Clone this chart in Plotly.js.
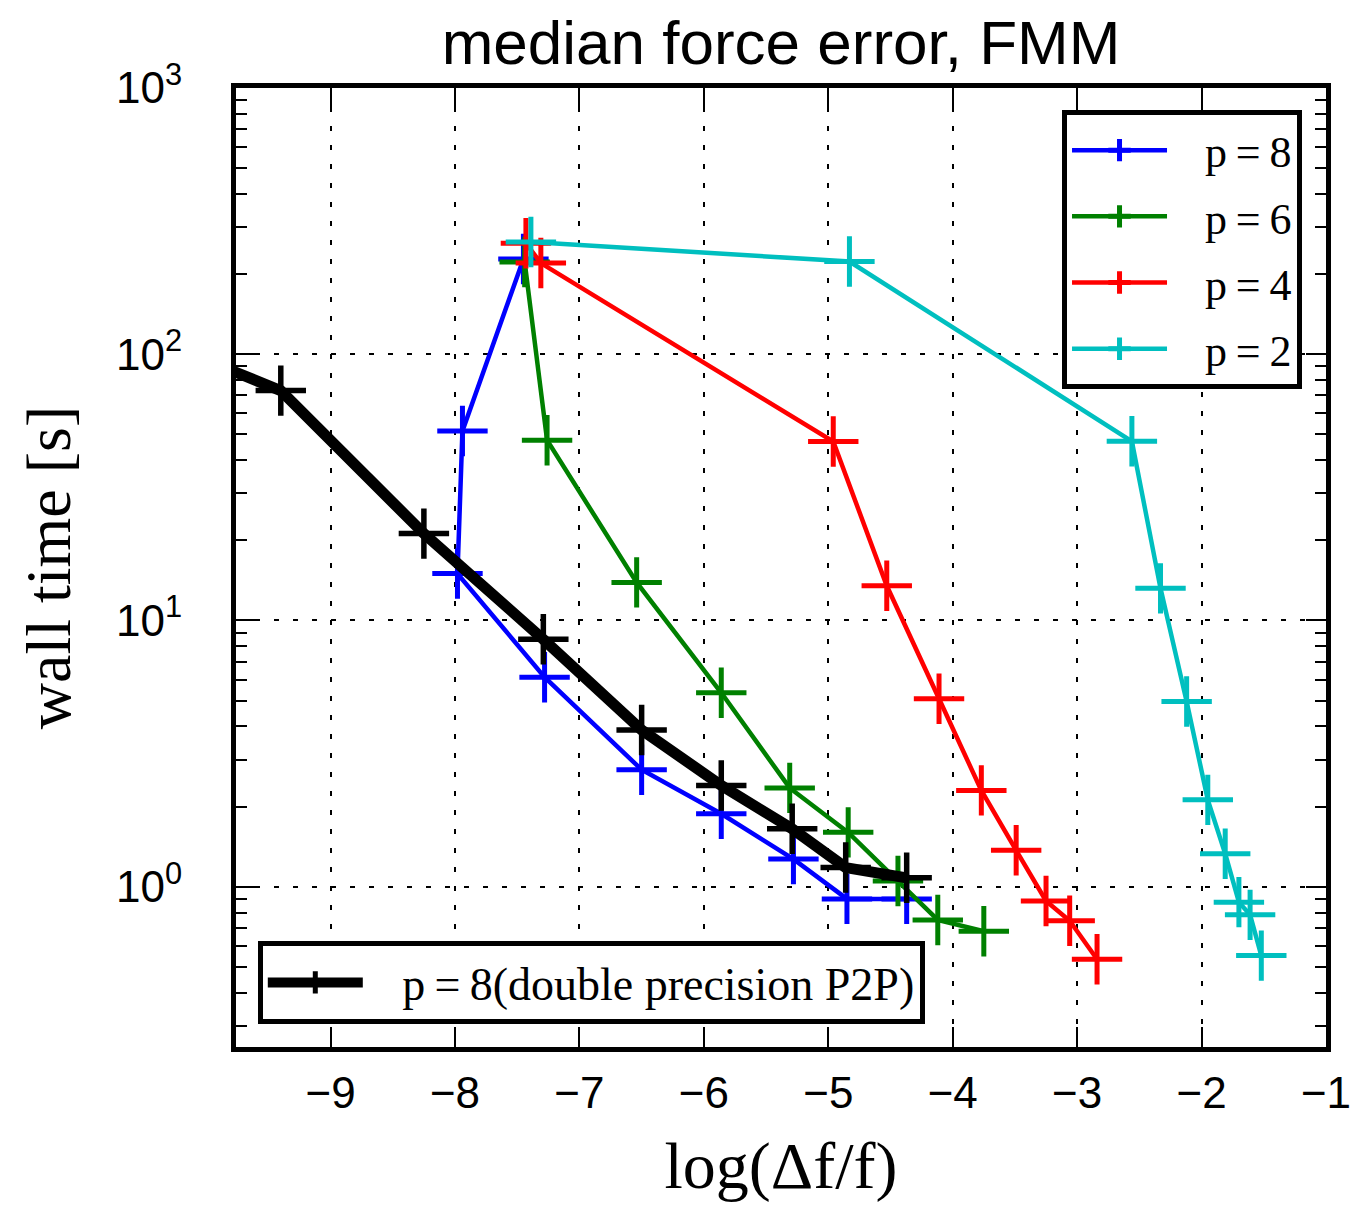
<!DOCTYPE html>
<html>
<head>
<meta charset="utf-8">
<script src="https://cdn.plot.ly/plotly-3.0.1.min.js"></script>
<style>
  html, body { margin: 0; padding: 0; background: #fff; }
  #chart { width: 1364px; height: 1207px; }
</style>
</head>
<body>
<div id="chart"></div>
<script>
// ---- data ----
const p8x  = [-7.45, -7.94, -7.98, -7.28, -6.50, -5.86, -5.28, -4.85, -4.37];
const p8y  = [228, 51.5, 15.0, 6.12, 2.75, 1.88, 1.27, 0.90, 0.90];

const p6x  = [-7.44, -7.26, -6.54, -5.86, -5.31, -4.84, -4.44, -4.12, -3.75];
const p6y  = [222, 47.5, 13.9, 5.35, 2.35, 1.60, 1.05, 0.75, 0.68];

const p4x  = [-7.43, -7.31, -4.96, -4.53, -4.11, -3.77, -3.49, -3.25, -3.06, -2.84];
const p4y  = [261, 220, 47.0, 13.5, 5.08, 2.30, 1.37, 0.884, 0.745, 0.534];

const p2x  = [-7.39, -4.83, -2.56, -2.33, -2.12, -1.95, -1.81, -1.70, -1.61, -1.52];
const p2y  = [264, 223, 47.1, 13.2, 4.96, 2.12, 1.33, 0.875, 0.784, 0.551];

const p8dx = [-10.0, -9.40, -8.25, -7.29, -6.50, -5.86, -5.29, -4.86, -4.37];
const p8dy = [95, 73, 21.2, 8.5, 3.88, 2.40, 1.65, 1.18, 1.08];

const seriesNames = ["p\u2009=\u20098", "p\u2009=\u20096", "p\u2009=\u20094", "p\u2009=\u20092", "p\u2009=\u20098(double precision P2P)"];
const xTickVals = [-9, -8, -7, -6, -5, -4, -3, -2, -1];
const yTickVals = [1, 10, 100, 1000];
const yTickText = ["10<sup>0</sup>", "10<sup>1</sup>", "10<sup>2</sup>", "10<sup>3</sup>"];

// minor tick positions on the log axis (2..9 per decade)
const yMinor = [];
[0.1, 1, 10, 100].forEach(d => { for (let k = 2; k <= 9; k++) yMinor.push(k * d); });

const GAP = '\u00a0\u00a0\u00a0';

function series(x, y, name, color, lw, mlw, legend, group) {
  return {
    x: x, y: y, name: GAP + name, type: 'scatter', mode: 'lines+markers',
    line: { color: color, width: lw },
    marker: { symbol: 'cross-thin', size: 36, color: color, line: { color: color, width: mlw } },
    legend: legend, legendgroup: group
  };
}

const traces = [
  series(p8x, p8y, seriesNames[0], '#0000ff', 4.5, 5, 'legend', 'a'),
  series(p6x, p6y, seriesNames[1], '#008000', 4.5, 5, 'legend', 'b'),
  series(p4x, p4y, seriesNames[2], '#ff0000', 4.5, 5, 'legend', 'c'),
  series(p2x, p2y, seriesNames[3], '#00bfbf', 4.5, 5, 'legend', 'd'),
  series(p8dx, p8dy, seriesNames[4], '#000000', 11, 5.5, 'legend2', 'e')
];

const axisCommon = {
  showline: true, linecolor: '#000', linewidth: 5, mirror: 'allticks',
  ticks: 'inside', ticklen: 20, tickwidth: 2, tickcolor: '#000',
  showgrid: true, gridcolor: '#000', gridwidth: 2, griddash: '5px,14px',
  zeroline: false,
  tickfont: { family: 'Liberation Sans, Arial, sans-serif', size: 44, color: '#000' }
};

const layout = {
  width: 1364, height: 1207,
  margin: { l: 236, r: 38, t: 88, b: 160 },
  paper_bgcolor: '#fff', plot_bgcolor: '#fff',
  title: {
    text: 'median force error, FMM',
    font: { family: 'Liberation Sans, Arial, sans-serif', size: 62, color: '#000' },
    x: 0.5, xref: 'paper', y: 1 - 42 / 1207, yref: 'container', yanchor: 'middle'
  },
  xaxis: Object.assign({}, axisCommon, {
    range: [-9.76, -1],
    tickvals: xTickVals,
    ticklabelstandoff: 3,
    title: { text: 'log(Δf/f)', font: { family: 'Liberation Serif, serif', size: 66, color: '#000' }, standoff: 28 }
  }),
  yaxis: Object.assign({}, axisCommon, {
    type: 'log',
    range: [Math.log10(0.25), 3],
    tickvals: yTickVals, ticktext: yTickText,
    ticklabelstandoff: 40,
    minor: { tickvals: yMinor, ticks: 'inside', ticklen: 11, tickwidth: 2, tickcolor: '#000', showgrid: false },
    title: { text: 'wall time [s]', font: { family: 'Liberation Serif, serif', size: 64, color: '#000' }, standoff: 26 }
  }),
  legend: {
    x: 0.978, xanchor: 'right', y: 0.977, yanchor: 'top',
    bgcolor: '#fff', bordercolor: '#000', borderwidth: 5,
    font: { family: 'Liberation Serif, serif', size: 44, color: '#000' },
    itemwidth: 95, tracegroupgap: 6
  },
  legend2: {
    x: 0.020, xanchor: 'left', y: 0.024, yanchor: 'bottom',
    bgcolor: '#fff', bordercolor: '#000', borderwidth: 5,
    font: { family: 'Liberation Serif, serif', size: 46, color: '#000' },
    itemwidth: 95
  },
  showlegend: true
};

Plotly.newPlot('chart', traces, layout, { displayModeBar: false, staticPlot: true });
</script>
</body>
</html>
